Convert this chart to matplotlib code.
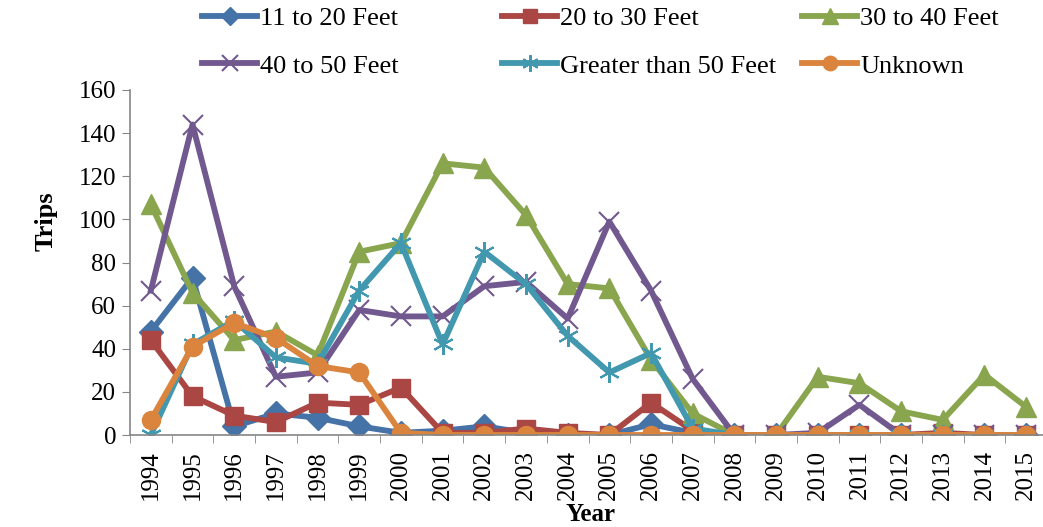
import numpy as np
import matplotlib
matplotlib.use("Agg")
import matplotlib.pyplot as plt

years = [str(y) for y in range(1994, 2016)]

ft_11_20 = [48, 73, 4, 10, 8, 4, 1, 2, 4, 1, 0, 0, 5, 1, 0, 0, 0, 0, 0, 0, 0, 0]
ft_20_30 = [44, 18, 9, 6, 15, 14, 22, 1, 1, 3, 1, 0, 15, 2, 0, 0, 0, 0, 0, 1, 0, 0]
ft_30_40 = [107, 66, 44, 48, 37, 85, 89, 126, 124, 102, 70, 68, 35, 10, 0, 0, 27, 24, 11, 7, 28, 13]
ft_40_50 = [67, 144, 69, 27, 29, 58, 55, 55, 69, 71, 54, 99, 67, 26, 0, 0, 1, 14, 0, 0, 0, 0]
ft_gt_50 = [0, 42, 53, 36, 33, 67, 89, 42, 85, 70, 46, 29, 38, 3, 0, 0, 0, 0, 0, 0, 0, 0]
unknown = [7, 41, 52, 45, 32, 29, 1, 0, 0, 0, 0, 0, 0, 0, 0, 0, 0, 0, 0, 0, 0, 0]

series = [
    ("11 to 20 Feet", ft_11_20, "#4572A7", "D", 12),
    ("20 to 30 Feet", ft_20_30, "#AA4643", "s", 13),
    ("30 to 40 Feet", ft_30_40, "#89A54E", "^", 14),
    ("40 to 50 Feet", ft_40_50, "#71588F", "x", 15),
    ("Greater than 50 Feet", ft_gt_50, "#4198AF", "*", 15),
    ("Unknown", unknown, "#DB843D", "o", 13),
]

plt.rcParams["font.family"] = ["Liberation Serif", "DejaVu Serif"]

W, H = 1043, 527
fig = plt.figure(figsize=(W / 100, H / 100), dpi=100)
ax = fig.add_axes([130 / W, 1 - 435 / H, 917 / W, 345 / H])

x = np.arange(len(years))
handles = []
for name, vals, col, mk, ms in series:
    kw = dict(markeredgecolor=col, markerfacecolor=col)
    if mk == "*":
        mk = (6, 2, 0)
        kw["markeredgewidth"] = 1.5
    if mk == "x":
        kw["markeredgewidth"] = 1.5
    h, = ax.plot(x, vals, color=col, linewidth=4.2, marker=mk, markersize=ms,
                 label=name, **kw)
    handles.append(h)

ax.set_xlim(-0.5, len(years) - 0.5)
ax.set_ylim(0, 160)
ax.set_yticks(range(0, 161, 20))
ax.set_xticks(x)
ax.set_xticklabels(years, rotation=90)
ax.set_xticks(np.arange(-0.5, len(years), 1), minor=True)
ax.tick_params(axis="x", which="major", length=0, labelsize=18, pad=11)
ax.tick_params(axis="x", which="minor", length=6, color="#868686", direction="out")
ax.tick_params(axis="y", length=6, color="#868686", labelsize=18, pad=4)

for s in ["top", "right"]:
    ax.spines[s].set_visible(False)
for s in ["left", "bottom"]:
    ax.spines[s].set_color("#868686")
    ax.spines[s].set_linewidth(1.2)

ax.set_ylabel("Trips", fontsize=19, fontweight="bold")
ax.yaxis.set_label_coords((58 - 130) / 917, (435 - 221) / 345)
ax.set_xlabel("Year", fontsize=18, fontweight="bold", va="bottom")
ax.xaxis.set_label_coords((591 - 130) / 917, (435 - 526) / 345)

# legend: three columns placed like the original (row-wise order)
col_x = [202, 502, 802]
for i, cx in enumerate(col_x):
    leg = fig.legend([handles[i], handles[i + 3]],
                     [series[i][0], series[i + 3][0]],
                     loc="upper left", bbox_to_anchor=(cx / W, 1 - 7 / H),
                     frameon=False, fontsize=19, handlelength=2.1,
                     handletextpad=0.1, labelspacing=0.9, borderpad=0,
                     borderaxespad=0, markerscale=0.8)

fig.savefig("out.png", dpi=100)
